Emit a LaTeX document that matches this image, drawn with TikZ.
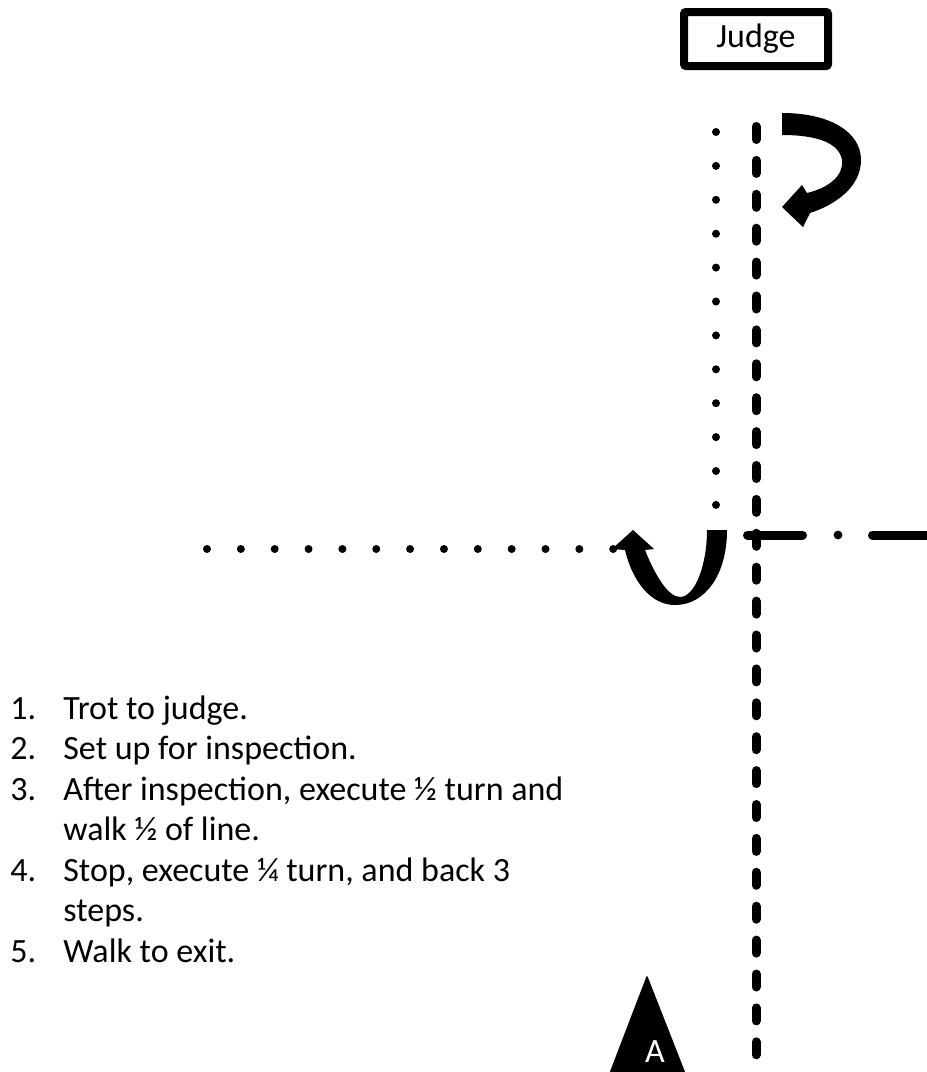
\documentclass[tikz,border=0pt]{standalone}
\usepackage{fontspec}
\setmainfont{Carlito}
\begin{document}
\begin{tikzpicture}[x=0.5pt,y=-0.5pt,font=\fontsize{17}{20.25}\selectfont,
  lane/.style={line width=4.5pt,line cap=round,dash pattern=on 6.5pt off 10.45pt},
  dashdot/.style={line width=4.5pt,line cap=round},
  turnarrow/.style={fill=black,line join=round}]
\useasboundingbox (0,0) rectangle (927,1072);
\node[draw,line width=4pt,rounded corners=1pt,minimum width=72pt,minimum height=27pt,inner sep=0pt](judge) at (756,39){Judge};
\draw[lane](756,126.5)--(756,1055);
\foreach \k in {0,...,11}{\pgfmathsetmacro{\y}{132+33.9*\k}\fill(716,\y)circle[radius=2pt];}
\foreach \k in {0,...,12}{\pgfmathsetmacro{\x}{207+33.85*\k}\fill(\x,549)circle[radius=2pt];}
\draw[dashdot](747.5,535)--(802.5,535);
\fill(838,535)circle[radius=2.2pt];
\draw[dashdot](872.5,535)--(940,535);
\fill[turnarrow](782,113) .. controls (830,113) and (861,132) .. (861,160) .. controls (861,187) and (835,205) .. (810,213)--(803,227)--(782,207)--(802,185)--(807,193) .. controls (828,188) and (844,176) .. (842,160) .. controls (839,142) and (815,135) .. (782,135)--cycle;
\fill[turnarrow](727,530) .. controls (727,575) and (705,605) .. (675,605) .. controls (650,605) and (632,580) .. (625,550)--(612,549)--(633,530)--(654,549)--(645,550) .. controls (655,575) and (668,597) .. (680,597) .. controls (695,597) and (707,565) .. (707,530)--cycle;
\fill[rounded corners=1pt](647,975)--(606,1082)--(689,1082)--cycle;
\node[text=white,inner sep=0pt](gate) at (655,1052){A};
\node[anchor=north west,inner sep=0pt](steps) at (10,690.6){\begin{tabular}{@{}p{26.5pt}@{}l@{}}
1.&Trot to judge.\\
2.&Set up for inspection.\\
3.&After inspection, execute ½ turn and\\
&walk ½ of line.\\
4.&Stop, execute ¼ turn, and back 3\\
&steps.\\
5.&Walk to exit.
\end{tabular}};
\end{tikzpicture}
\end{document}
